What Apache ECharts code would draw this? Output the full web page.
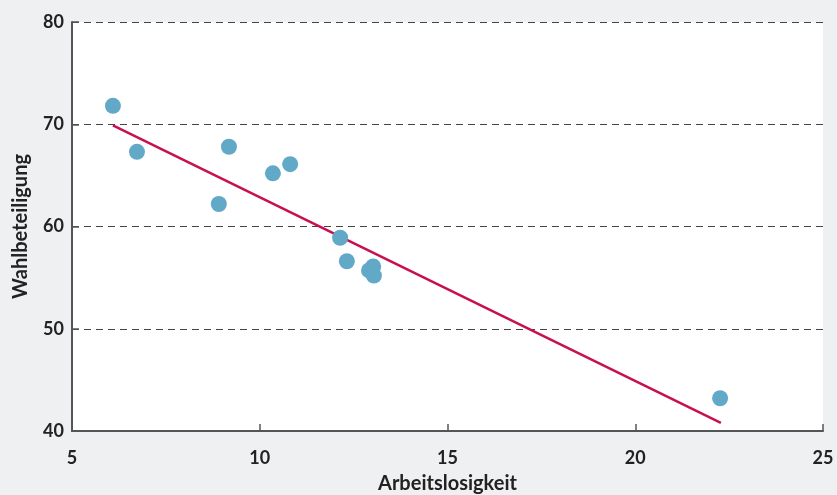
<!DOCTYPE html>
<html><head><meta charset="utf-8">
<script src="https://cdn.jsdelivr.net/npm/echarts@6/dist/echarts.min.js"></script>
<style>html,body{margin:0;padding:0;background:#eff0f2;}#c{width:837px;height:495px;}</style>
</head><body><div id="c"></div>
<script>
const arbeitslosigkeit = [6.09, 6.73, 9.18, 8.91, 10.35, 10.81, 12.14, 12.32, 12.91, 13.02, 13.04, 22.26];
const wahlbeteiligung = [71.8, 67.3, 67.8, 62.2, 65.2, 66.1, 58.9, 56.6, 55.7, 56.1, 55.2, 43.2];
const trendX = [6.09, 22.28];
const trendY = [69.9, 40.8];
const xTicks = [5, 10, 15, 20, 25];
const yTicks = [40, 50, 60, 70, 80];

const chart = echarts.init(document.getElementById('c'));
const font = 'Lato, "Open Sans", sans-serif';
chart.setOption({
  backgroundColor: '#eff0f2',
  animation: false,
  grid: {left: 72, right: 14, top: 22, bottom: 64, backgroundColor: '#ffffff', show: true, borderWidth: 0, outerBoundsMode: 'none', containLabel: false},
  xAxis: {
    type: 'value', min: xTicks[0], max: xTicks[xTicks.length-1], interval: 5,
    name: 'Arbeitslosigkeit', nameLocation: 'middle', nameGap: 43,
    nameTextStyle: {fontFamily: font, fontWeight: 'bold', fontSize: 20, color: '#222'},
    axisLine: {lineStyle: {color: '#555', width: 2}},
    axisTick: {inside: true, length: 7, lineStyle: {color: '#555', width: 1.5}},
    axisLabel: {fontFamily: font, fontWeight: 'bold', fontSize: 18, color: '#222', margin: 18},
    splitLine: {show: false}
  },
  yAxis: {
    type: 'value', min: yTicks[0], max: yTicks[yTicks.length-1], interval: 10,
    name: 'Wahlbeteiligung', nameLocation: 'middle', nameGap: 41,
    nameTextStyle: {fontFamily: font, fontWeight: 'bold', fontSize: 20, color: '#222'},
    axisLine: {show: true, lineStyle: {color: '#555', width: 2}},
    axisTick: {show: true, inside: true, length: 7, lineStyle: {color: '#555', width: 1.5}},
    axisLabel: {fontFamily: font, fontWeight: 'bold', fontSize: 18, color: '#222', margin: 8},
    splitLine: {show: true, lineStyle: {color: '#444', type: [7, 5], width: 1}}
  },
  series: [
    {
      type: 'line', data: trendX.map((x, i) => [x, trendY[i]]),
      showSymbol: false, symbol: 'none',
      lineStyle: {color: '#c8104f', width: 2.5}, z: 2
    },
    {
      type: 'scatter', data: arbeitslosigkeit.map((x, i) => [x, wahlbeteiligung[i]]),
      symbolSize: 16, itemStyle: {color: '#62a9c8', opacity: 1}, z: 3
    }
  ]
});
</script></body></html>
